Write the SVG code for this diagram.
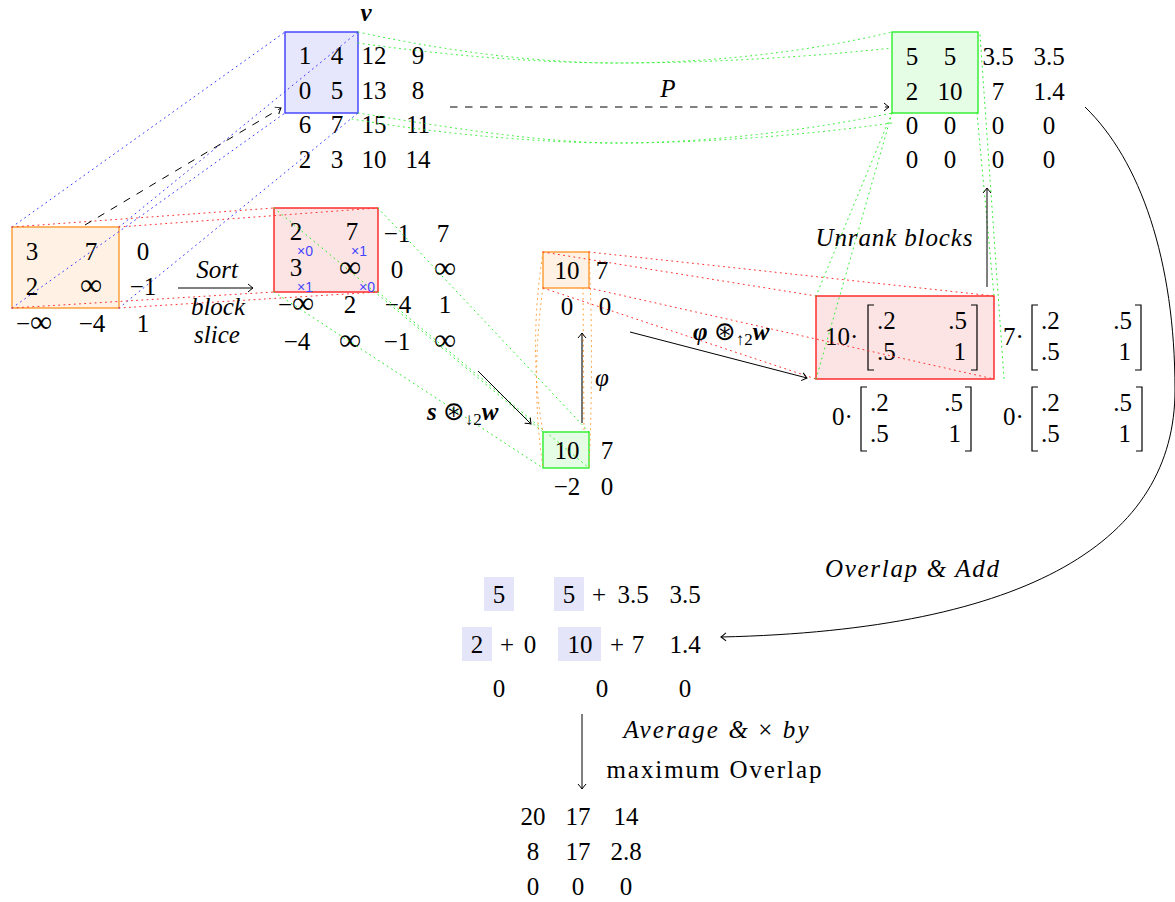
<svg xmlns="http://www.w3.org/2000/svg" width="1175" height="902" viewBox="0 0 1175 902">
<style>
text{font-family:"Liberation Serif","Times New Roman",Times,"DejaVu Serif",serif;font-size:25px;fill:#000}
.m{text-anchor:middle}
.s{text-anchor:start}
.e{text-anchor:end}
.it{font-style:italic}
.bi{font-style:italic;font-weight:bold}
.inf{font-size:31px}
.op{font-family:"DejaVu Sans","Liberation Serif",sans-serif;font-size:26px;font-weight:normal;font-style:normal}
.sub{font-size:17px}
.tag{font-family:"Liberation Sans","DejaVu Sans",sans-serif;font-size:14px;fill:#4444ff}
.dot{fill:none;stroke-width:1;stroke-dasharray:1 4.2;stroke-linecap:round}
.db{stroke:#3a3aff}
.dr{stroke:#ff3030}
.dg{stroke:#2bef2b}
.do{stroke:#ff9a30}
.arr{fill:none;stroke:#000;stroke-width:1;marker-end:url(#ah)}
.dash{stroke-dasharray:7.5 7.5}
.br{fill:none;stroke:#000;stroke-width:1.2}
.hl{fill:#e5e5fa}
</style>
<defs>
<marker id="ah" viewBox="-6 -5 8 10" refX="0" refY="0" markerWidth="8" markerHeight="10" orient="auto" markerUnits="userSpaceOnUse">
<path d="M-5,-4 Q-1.5,-1 0,0 Q-1.5,1 -5,4" fill="none" stroke="#000" stroke-width="1"/>
</marker>
</defs>

<g id="node-v">
<rect x="285" y="32" width="73" height="81" fill="#e6e6fc" stroke="#3c3cff" stroke-width="1.4"/>
<text class="bi m" x="366" y="21">v</text>
<text class="m" x="305" y="64">1</text><text class="m" x="337" y="64">4</text><text class="m" x="374" y="64">12</text><text class="m" x="418" y="64">9</text>
<text class="m" x="305" y="99">0</text><text class="m" x="337" y="99">5</text><text class="m" x="374" y="99">13</text><text class="m" x="418" y="99">8</text>
<text class="m" x="305" y="133">6</text><text class="m" x="337" y="133">7</text><text class="m" x="374" y="133">15</text><text class="m" x="418" y="133">11</text>
<text class="m" x="305" y="168">2</text><text class="m" x="337" y="168">3</text><text class="m" x="374" y="168">10</text><text class="m" x="418" y="168">14</text>
</g>

<g id="node-input">
<rect x="12" y="227" width="107" height="81" fill="#fff1e3" stroke="#ff9a30" stroke-width="1.4"/>
<text class="m" x="32" y="260">3</text><text class="m" x="91" y="260">7</text><text class="m" x="143" y="260">0</text>
<text class="m" x="32" y="295">2</text><text class="m inf" x="91" y="295">∞</text><text class="m" x="143" y="295">−1</text>
<text class="m" x="34" y="332">−<tspan class="inf">∞</tspan></text><text class="m" x="92" y="332">−4</text><text class="m" x="143" y="332">1</text>
</g>

<g id="node-sorted">
<rect x="274" y="208" width="104" height="84" fill="#fde4e4" stroke="#ff2020" stroke-width="1.4"/>
<text class="m" x="296" y="240">2</text><text class="m" x="352" y="240">7</text><text class="m" x="397" y="242">−1</text><text class="m" x="443" y="242">7</text>
<text class="m" x="296" y="276">3</text><text class="m inf" x="350" y="277">∞</text><text class="m" x="397" y="278">0</text><text class="m inf" x="445" y="278">∞</text>
<text class="m" x="296" y="313">−<tspan class="inf">∞</tspan></text><text class="m" x="350" y="313">2</text><text class="m" x="398" y="313">−4</text><text class="m" x="445" y="313">1</text>
<text class="m" x="297" y="350">−4</text><text class="m inf" x="350" y="350">∞</text><text class="m" x="397" y="350">−1</text><text class="m inf" x="445" y="350">∞</text>
<text class="tag m" x="305" y="256">×0</text><text class="tag m" x="359" y="256">×1</text>
<text class="tag m" x="305" y="292">×1</text><text class="tag m" x="367" y="292">×0</text>
</g>

<g id="node-phi">
<rect x="543" y="252" width="46" height="36" fill="#fff1e3" stroke="#ff9a30" stroke-width="1.4"/>
<text class="m" x="567" y="279">10</text><text class="m" x="602" y="279">7</text>
<text class="m" x="567" y="315">0</text><text class="m" x="605" y="315">0</text>
</g>

<g id="node-s">
<rect x="543" y="432" width="46" height="36" fill="#e5fde5" stroke="#2bef2b" stroke-width="1.4"/>
<text class="m" x="567" y="459">10</text><text class="m" x="607" y="459">7</text>
<text class="m" x="567" y="495">−2</text><text class="m" x="607" y="495">0</text>
</g>

<g id="node-blocks">
<rect x="816" y="296" width="178" height="83" fill="#fde4e4" stroke="#ff2020" stroke-width="1.4"/>
<text class="s" x="825" y="345">10·</text>
<path class="br" d="M874,305 H868 V370 H874 M971,305 H977 V370 H971"/>
<text class="s" x="877" y="329">.2</text><text class="e" x="967" y="329">.5</text>
<text class="s" x="877" y="360">.5</text><text class="e" x="966" y="360">1</text>
<text class="s" x="1003" y="345">7·</text>
<path class="br" d="M1038,305 H1032 V370 H1038 M1135,305 H1141 V370 H1135"/>
<text class="s" x="1041" y="329">.2</text><text class="e" x="1132" y="329">.5</text>
<text class="s" x="1041" y="360">.5</text><text class="e" x="1131" y="360">1</text>
<text class="s" x="832" y="425">0·</text>
<path class="br" d="M867,387 H861 V451 H867 M965,387 H971 V451 H965"/>
<text class="s" x="870" y="411">.2</text><text class="e" x="963" y="411">.5</text>
<text class="s" x="870" y="442">.5</text><text class="e" x="961" y="442">1</text>
<text class="s" x="1003" y="425">0·</text>
<path class="br" d="M1038,387 H1032 V451 H1038 M1136,387 H1142 V451 H1136"/>
<text class="s" x="1041" y="411">.2</text><text class="e" x="1132" y="411">.5</text>
<text class="s" x="1041" y="442">.5</text><text class="e" x="1131" y="442">1</text>
</g>

<g id="node-output">
<rect x="892" y="32" width="86" height="81" fill="#e5fde5" stroke="#2bef2b" stroke-width="1.4"/>
<text class="m" x="912" y="65">5</text><text class="m" x="950" y="65">5</text><text class="m" x="998" y="65">3.5</text><text class="m" x="1049" y="65">3.5</text>
<text class="m" x="912" y="100">2</text><text class="m" x="950" y="100">10</text><text class="m" x="998" y="100">7</text><text class="m" x="1049" y="100">1.4</text>
<text class="m" x="912" y="134">0</text><text class="m" x="950" y="134">0</text><text class="m" x="998" y="134">0</text><text class="m" x="1049" y="134">0</text>
<text class="m" x="912" y="168">0</text><text class="m" x="950" y="168">0</text><text class="m" x="998" y="168">0</text><text class="m" x="1049" y="168">0</text>
</g>

<g id="node-overlap">
<rect class="hl" x="484" y="577" width="30" height="34"/>
<rect class="hl" x="554" y="577" width="30" height="34"/>
<rect class="hl" x="462" y="627" width="30" height="34"/>
<rect class="hl" x="558" y="627" width="43" height="34"/>
<text class="m" x="499" y="603">5</text><text class="m" x="569" y="603">5</text><text class="m" x="599" y="603">+</text><text class="m" x="633" y="603">3.5</text><text class="m" x="685" y="603">3.5</text>
<text class="m" x="477" y="653">2</text><text class="m" x="507" y="653">+</text><text class="m" x="530" y="653">0</text><text class="m" x="580" y="653">10</text><text class="m" x="617" y="653">+</text><text class="m" x="638" y="653">7</text><text class="m" x="685" y="653">1.4</text>
<text class="m" x="499" y="697">0</text><text class="m" x="602" y="697">0</text><text class="m" x="685" y="697">0</text>
</g>

<g id="node-result">
<text class="m" x="533" y="825">20</text><text class="m" x="578" y="825">17</text><text class="m" x="626" y="825">14</text>
<text class="m" x="533" y="860">8</text><text class="m" x="578" y="860">17</text><text class="m" x="626" y="860">2.8</text>
<text class="m" x="533" y="895">0</text><text class="m" x="578" y="895">0</text><text class="m" x="626" y="895">0</text>
</g>

<g id="connectors">
<path class="dot db" d="M12,227 L285,32 M119,227 L358,32 M12,308 L285,113 M119,308 L358,113"/>
<path class="dot dr" d="M12,227 L274,208 M119,227 L378,208 M12,308 L274,292 M119,308 L378,292"/>
<path class="dot dg" d="M358,32 C450,52 540,63 618,63 C700,63 800,54 892,32"/>
<path class="dot dg" d="M358,43 C450,56 540,63 618,63 C700,63 800,58 892,48"/>
<path class="dot dg" d="M358,113 C440,126 540,143 618,143 C700,143 800,132 892,113"/>
<path class="dot dg" d="M352,119 C440,134 540,143 618,143 C700,143 800,136 892,123"/>
<path class="dot dg" d="M274,208 L543,432 M378,208 L589,432 M274,292 L543,468 M378,292 L589,468"/>
<path class="dot do" d="M543,252 Q528,350 543,432 M543,288 Q530,380 543,468 M583,288 L584,432 M589,252 Q594,360 589,468"/>
<path class="dot dr" d="M543,252 L816,296 M589,252 L994,296 M543,288 L816,379 M589,288 L994,379"/>
<path class="dot dg" d="M892,113 L816,296 M892,113 L816,379 M977,113 L994,296 M980,35 L1004,379"/>

<path class="arr dash" d="M85,225 L281,108"/>
<path class="arr" d="M178,288 L253,288"/>
<text class="it m" x="217" y="278">Sort</text>
<text class="it m" x="218" y="315">block</text>
<text class="it m" x="217" y="343">slice</text>

<path class="arr dash" d="M450,107 L889,107"/>
<text class="it m" x="668" y="97">P</text>

<path class="arr" d="M478,371 L531,424"/>
<text x="427" y="420"><tspan class="bi">s</tspan> <tspan class="op">⊛</tspan><tspan class="sub" dy="5">↓2</tspan><tspan class="bi" dy="-5">w</tspan></text>

<path d="M582,423 L582,333" fill="none" stroke="#555" stroke-width="1.6" marker-end="url(#ah)"/>
<text class="it m" x="602" y="386">φ</text>

<path class="arr" d="M630,332 L807,378"/>
<text x="693" y="340"><tspan class="bi">φ</tspan> <tspan class="op">⊛</tspan><tspan class="sub" dy="5">↑2</tspan><tspan class="bi" dy="-5">w</tspan></text>

<path class="arr" d="M987,287 L987,188"/>
<text class="it m" x="894" y="246" textLength="157" lengthAdjust="spacing">Unrank blocks</text>

<path class="arr" d="M1085,107 C1140,160 1175,260 1175,390 C1175,540 1030,630 721,637"/>
<text class="it m" x="912" y="577" textLength="174" lengthAdjust="spacing">Overlap &amp; Add</text>

<path class="arr" d="M582,714 L582,789"/>
<text class="m" x="716" y="738" textLength="185" lengthAdjust="spacing"><tspan class="it">Average &amp;</tspan> × <tspan class="it">by</tspan></text>
<text class="m" x="714" y="778" textLength="215" lengthAdjust="spacing">maximum Overlap</text>
</g>
</svg>
